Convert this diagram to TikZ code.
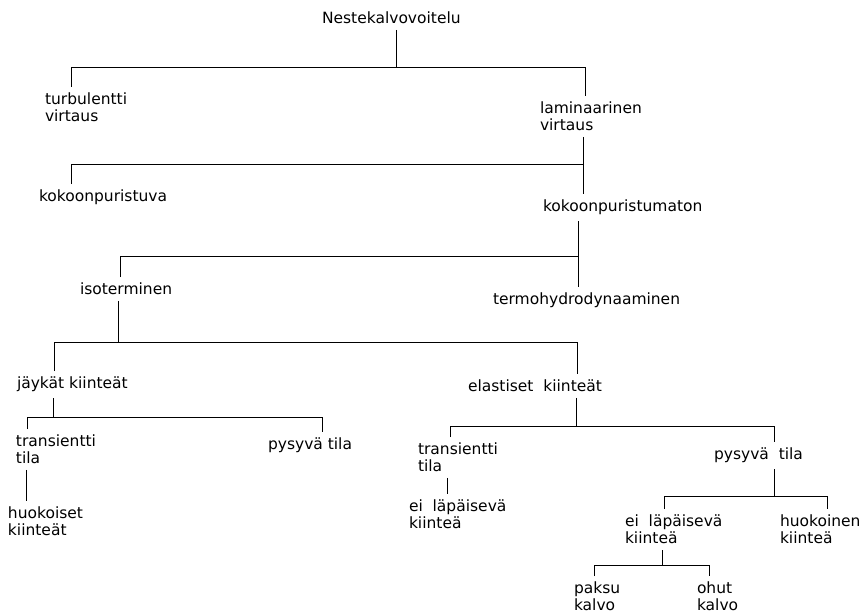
\documentclass[tikz,border=0pt]{standalone}
\usepackage{fontspec}
\setmainfont{DejaVu Sans}
\usetikzlibrary{positioning}

\begin{document}
\begin{tikzpicture}[x=1pt,y=-1pt,line width=0.9pt,
    term/.style={anchor=north west,inner sep=0pt,outer sep=6pt,align=left,
      font=\fontsize{15.5}{17}\selectfont}]
    \useasboundingbox (0,0) rectangle (862,615);

    % terms
    \node[term] (nest)   at (316,6)   {Nestekalvovoitelu};
    \node[term] (turb)   at (39,87)   {turbulentti\\virtaus};
    \node[term] (lam)    at (534,96)  {laminaarinen\\virtaus};
    \node[term] (kokp)   at (33,184)  {kokoonpuristuva};
    \node[term] (kokm)   at (537,194) {kokoonpuristumaton};
    \node[term] (iso)    at (74,277)  {isoterminen};
    \node[term] (termo)  at (487,287) {termohydrodynaaminen};
    \node[term] (jay)    at (11,371)  {jäykät kiinteät};
    \node[term] (elast)  at (462,374) {elastiset\ \ kiinteät};
    \node[term] (transA) at (10,429)  {transientti\\tila};
    \node[term] (pysA)   at (262,432) {pysyvä tila};
    \node[term] (huoks)  at (2,501)   {huokoiset\\kiinteät};
    \node[term] (transB) at (412,437) {transientti\\tila};
    \node[term] (pysB)   at (708,442) {pysyvä\ \ tila};
    \node[term] (eiA)    at (403,494) {ei\ \ läpäisevä\\kiinteä};
    \node[term] (eiB)    at (619,509) {ei\ \ läpäisevä\\kiinteä};
    \node[term] (huokn)  at (774,509) {huokoinen\\kiinteä};
    \node[term] (paksu)  at (568,576) {paksu\\kalvo};
    \node[term] (ohut)   at (691,576) {ohut\\kalvo};

    % bar ends and joints
    \coordinate (b1a) at (71,67);   \coordinate (b1b) at (585,67);  \coordinate (j1) at (396,67);
    \coordinate (b2a) at (71,164);  \coordinate (b2b) at (583,164);
    \coordinate (b3a) at (120,256); \coordinate (b3b) at (578,256);
    \coordinate (b4a) at (54,342);  \coordinate (b4b) at (577,342); \coordinate (j4) at (118,342);
    \coordinate (b5a) at (27,417);  \coordinate (b5b) at (322,417); \coordinate (j5) at (53,417);
    \coordinate (b6a) at (450,426); \coordinate (b6b) at (774,426); \coordinate (j6) at (576,426);
    \coordinate (b7a) at (664,496); \coordinate (b7b) at (827,496); \coordinate (j7) at (774,496);
    \coordinate (b8a) at (594,565); \coordinate (b8b) at (709,565); \coordinate (j8) at (662,565);
    \coordinate (s1) at (26,485);
    \coordinate (s2) at (447,488);

    \draw (nest.south -| j1) -- (j1);
    \draw (turb.north -| b1a) -- (b1a) -- (b1b) -- (lam.north -| b1b);

    \draw (lam.south -| b2b) -- (kokm.north -| b2b);
    \draw (kokp.north -| b2a) -- (b2a) -- (b2b);

    \draw (kokm.south -| b3b) -- (termo.north -| b3b);
    \draw (iso.north -| b3a) -- (b3a) -- (b3b);

    \draw (iso.south -| j4) -- (j4);
    \draw (jay.north -| b4a) -- (b4a) -- (b4b) -- (elast.north -| b4b);

    \draw (jay.south -| j5) -- (j5);
    \draw (transA.north -| b5a) -- (b5a) -- (b5b) -- (pysA.north -| b5b);
    \draw (transA.south -| s1) -- (huoks.north -| s1);

    \draw (elast.south -| j6) -- (j6);
    \draw (transB.north -| b6a) -- (b6a) -- (b6b) -- (pysB.north -| b6b);
    \draw (transB.south -| s2) -- (eiA.north -| s2);

    \draw (pysB.south -| j7) -- (j7);
    \draw (eiB.north -| b7a) -- (b7a) -- (b7b) -- (huokn.north -| b7b);

    \draw (eiB.south -| j8) -- (j8);
    \draw (paksu.north -| b8a) -- (b8a) -- (b8b) -- (ohut.north -| b8b);
\end{tikzpicture}
\end{document}
